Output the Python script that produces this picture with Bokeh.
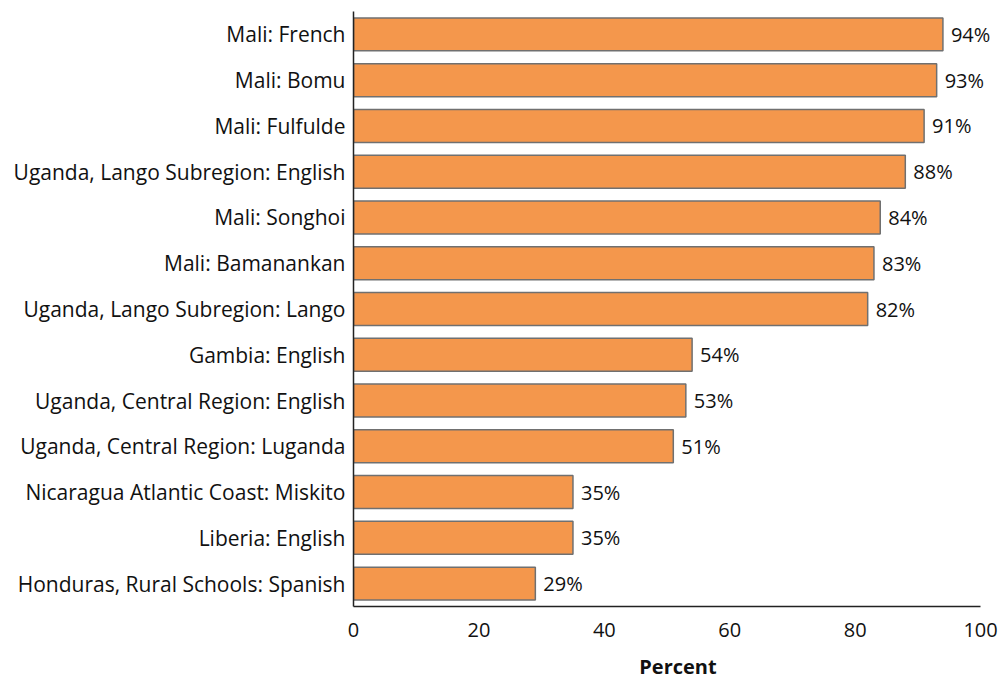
from bokeh.plotting import figure
from bokeh.models import ColumnDataSource, LabelSet
from bokeh.core.properties import value
from bokeh.embed import file_html
from bokeh.resources import INLINE

categories = [
    "Mali: French",
    "Mali: Bomu",
    "Mali: Fulfulde",
    "Uganda, Lango Subregion: English",
    "Mali: Songhoi",
    "Mali: Bamanankan",
    "Uganda, Lango Subregion: Lango",
    "Gambia: English",
    "Uganda, Central Region: English",
    "Uganda, Central Region: Luganda",
    "Nicaragua Atlantic Coast: Miskito",
    "Liberia: English",
    "Honduras, Rural Schools: Spanish",
]
values = [94, 93, 91, 88, 84, 83, 82, 54, 53, 51, 35, 35, 29]
x_ticks = [0, 20, 40, 60, 80, 100]

FONT = "Open Sans"
cats_rev = categories[::-1]

src = ColumnDataSource(dict(
    cat=categories,
    val=values,
    lbl=[f"{v}%" for v in values],
))

p = figure(
    y_range=cats_rev, x_range=(0, 103.5),
    frame_width=649, frame_height=595,
    output_backend="svg", toolbar_location=None,
    min_border_left=353, min_border_right=0, min_border_top=11, min_border_bottom=0,
)
p.y_range.range_padding = 0

p.hbar(y="cat", right="val", left=0, height=0.72, source=src,
       fill_color="#F4974C", line_color="#707070", line_width=1.5)

labels = LabelSet(x="val", y="cat", text="lbl", source=src, x_offset=8,
                  text_align="left", text_baseline="middle",
                  text_font=value(FONT), text_font_size="20px", text_color="#111111")
p.add_layout(labels)

p.xaxis.ticker = x_ticks
p.xaxis.bounds = (0, 100)
p.xaxis.axis_label = "Percent"
p.xaxis.axis_label_text_font = FONT
p.xaxis.axis_label_text_font_style = "bold"
p.xaxis.axis_label_text_font_size = "20px"
p.xaxis.axis_label_text_color = "#111111"
p.xaxis.axis_label_standoff = 13
for ax in (p.xaxis, p.yaxis):
    ax.major_label_text_font = FONT
    ax.major_label_text_color = "#111111"
    ax.major_tick_line_color = None
    ax.minor_tick_line_color = None
    ax.major_tick_out = 0
    ax.major_tick_in = 0
    ax.minor_tick_out = 0
    ax.minor_tick_in = 0
    ax.axis_line_color = "#222222"
    ax.axis_line_width = 1.5
p.xaxis.major_label_text_font_size = "20px"
p.yaxis.major_label_text_font_size = "21px"
p.xaxis.major_label_standoff = 16
p.yaxis.major_label_standoff = 8

p.xgrid.grid_line_color = None
p.ygrid.grid_line_color = None
p.outline_line_color = None

open("out.html", "w").write(file_html(p, INLINE))
